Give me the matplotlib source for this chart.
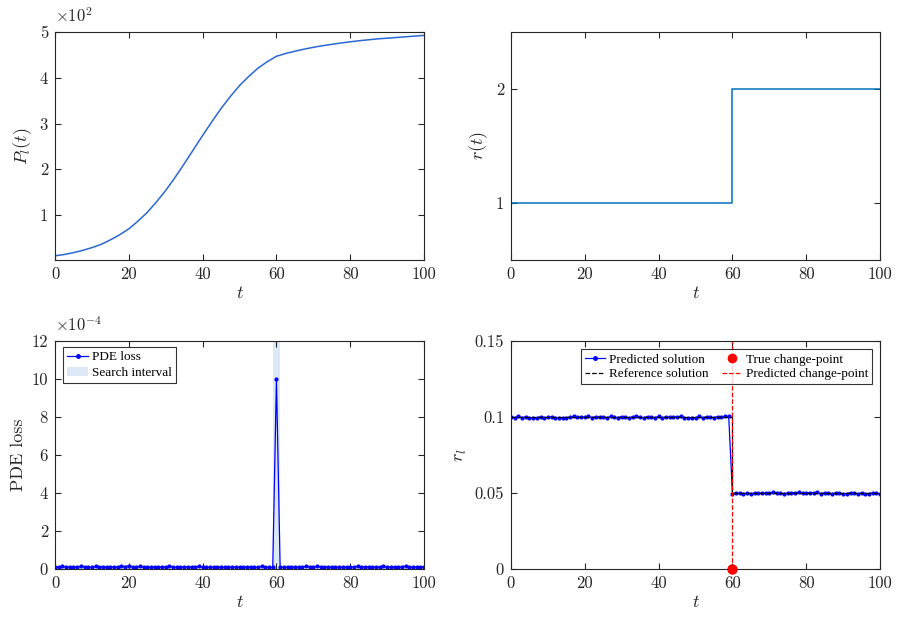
import matplotlib
matplotlib.use("Agg")
import matplotlib.pyplot as plt
from matplotlib.patches import Patch
from matplotlib.lines import Line2D
import numpy as np

# population P_l(t), in units of 1e2
p_time = [0, 2.5, 5, 7.5, 10, 12.5, 15, 17.5, 20, 22.5, 25, 27.5, 30, 32.5, 35, 37.5,
          40, 42.5, 45, 47.5, 50, 52.5, 55, 57.5, 60, 62.5, 65, 67.5, 70, 72.5, 75,
          77.5, 80, 82.5, 85, 87.5, 90, 92.5, 95, 97.5, 100]
p_vals = [0.11, 0.14, 0.18, 0.23, 0.29, 0.36, 0.46, 0.57, 0.70, 0.87, 1.06, 1.29, 1.54,
          1.82, 2.12, 2.43, 2.74, 3.04, 3.33, 3.59, 3.83, 4.03, 4.21, 4.35, 4.47, 4.53,
          4.58, 4.625, 4.665, 4.70, 4.73, 4.76, 4.785, 4.81, 4.83, 4.85, 4.865, 4.88,
          4.895, 4.91, 4.925]

# growth rate r(t)
r_time = [0, 60, 60, 100]
r_vals = [1, 1, 2, 2]

t = np.arange(0, 101)

# PDE loss, in units of 1e-4
pde_loss = [0.12, 0.10, 0.14, 0.11, 0.09, 0.13, 0.10, 0.15, 0.12, 0.08,
            0.11, 0.14, 0.10, 0.13, 0.09, 0.12, 0.10, 0.11, 0.16, 0.13,
            0.18, 0.12, 0.09, 0.14, 0.10, 0.08, 0.11, 0.13, 0.09, 0.12,
            0.10, 0.14, 0.11, 0.08, 0.12, 0.10, 0.13, 0.09, 0.11, 0.14,
            0.10, 0.12, 0.08, 0.11, 0.13, 0.09, 0.10, 0.12, 0.08, 0.11,
            0.09, 0.12, 0.10, 0.13, 0.09, 0.11, 0.14, 0.10, 0.08, 0.09,
            10.0, 0.11, 0.09, 0.12, 0.10, 0.13, 0.09, 0.11, 0.14, 0.12,
            0.10, 0.15, 0.11, 0.09, 0.13, 0.10, 0.12, 0.08, 0.11, 0.10,
            0.09, 0.12, 0.14, 0.10, 0.11, 0.13, 0.09, 0.12, 0.10, 0.14,
            0.11, 0.09, 0.12, 0.10, 0.13, 0.15, 0.11, 0.09, 0.12, 0.10,
            0.13]
search_lo, search_hi = 59, 61

# predicted r_l
r_pred = [0.1003, 0.0995, 0.1004, 0.0996, 0.1001, 0.0994, 0.0993, 0.0995, 0.1002, 0.0996,
          0.0997, 0.1003, 0.0995, 0.0996, 0.0994, 0.0993, 0.1001, 0.1004, 0.0997, 0.1002,
          0.0998, 0.1005, 0.0996, 0.1003, 0.0997, 0.1002, 0.0995, 0.1004, 0.0999, 0.0996,
          0.1003, 0.0998, 0.0994, 0.1002, 0.1004, 0.0997, 0.0995, 0.1003, 0.0998, 0.0996,
          0.1004, 0.0995, 0.1002, 0.0997, 0.1003, 0.0998, 0.1004, 0.0996, 0.0995, 0.0994,
          0.0996, 0.1004, 0.0995, 0.1002, 0.0997, 0.0996, 0.1003, 0.0998, 0.1005, 0.1004,
          0.0495, 0.0502, 0.0497, 0.0494, 0.0501, 0.0496, 0.0499, 0.0503, 0.0497, 0.0502,
          0.0501, 0.0504, 0.0503, 0.0498, 0.0496, 0.0501, 0.0503, 0.0502, 0.0504, 0.0497,
          0.0502, 0.0503, 0.0501, 0.0504, 0.0496, 0.0502, 0.0499, 0.0495, 0.0501, 0.0497,
          0.0494, 0.0496, 0.0502, 0.0497, 0.0495, 0.0501, 0.0496, 0.0495, 0.0503, 0.0499,
          0.0494]
ref_time = [0, 60, 60, 100]
ref_vals = [0.1, 0.1, 0.05, 0.05]
true_cp = 60
pred_cp = 60

plt.rcParams["font.family"] = "serif"
plt.rcParams["font.serif"] = ["cmr10"]
plt.rcParams["mathtext.fontset"] = "cm"
plt.rcParams["axes.formatter.use_mathtext"] = True
plt.rcParams["font.size"] = 12

ink = "0.15"
fig = plt.figure(figsize=(8.99, 6.41), dpi=100)
w, h = 0.4105, 0.3557
ax1 = fig.add_axes([0.0612, 0.5944, w, h])
ax2 = fig.add_axes([0.5684, 0.5944, w, h])
ax3 = fig.add_axes([0.0612, 0.1123, w, h])
ax4 = fig.add_axes([0.5684, 0.1123, w, h])


def style(ax):
    ax.tick_params(direction="in", top=True, right=True, length=4, width=0.8,
                   colors=ink, labelsize=12, pad=5)
    for s in ax.spines.values():
        s.set_color(ink)
        s.set_linewidth(0.8)
    ax.set_xlim(0, 100)
    ax.set_xticks([0, 20, 40, 60, 80, 100])
    ax.set_xticklabels(["0", "20", "40", "60", "80", "100"])
    ax.set_xlabel("$t$", fontsize=13, color=ink, labelpad=2)


# P_l(t)
ax1.plot(p_time, p_vals, color="#2a66d4", lw=1.1)
ax1.set_ylim(0.02, 5)
ax1.set_yticks([1, 2, 3, 4, 5])
ax1.set_yticklabels(["1", "2", "3", "4", "5"])
ax1.set_ylabel("$P_l(t)$", fontsize=13, color=ink)
ax1.text(0.0, 1.045, r"$\times10^{2}$", transform=ax1.transAxes, fontsize=12, color=ink)
style(ax1)

# r(t)
ax2.plot(r_time, r_vals, color="#0072BD", lw=1.1)
ax2.set_ylim(0.5, 2.5)
ax2.set_yticks([1, 2])
ax2.set_yticklabels(["1", "2"])
ax2.set_ylabel("$r(t)$", fontsize=13, color=ink)
style(ax2)

# PDE loss
ax3.axvspan(search_lo, search_hi, color="#dce8f5", lw=0)
ax3.plot(t, pde_loss, "-", color="b", marker=".", ms=4, lw=0.9)
ax3.set_ylim(0, 12)
ax3.set_yticks([0, 2, 4, 6, 8, 10, 12])
ax3.set_yticklabels(["0", "2", "4", "6", "8", "10", "12"])
ax3.set_ylabel("PDE loss", fontsize=13, color=ink)
ax3.text(0.0, 1.045, r"$\times10^{-4}$", transform=ax3.transAxes, fontsize=12, color=ink)
style(ax3)
h3 = [Line2D([], [], color="b", marker=".", ms=5, lw=0.9),
      Patch(facecolor="#dce8f5", edgecolor="none")]
leg = ax3.legend(h3, ["PDE loss", "Search interval"], loc="upper left",
                 bbox_to_anchor=(0.015, 0.985), fancybox=False, edgecolor="k",
                 prop={"family": "Liberation Serif", "size": 9.5},
                 handlelength=1.6, handletextpad=0.3, borderpad=0.3,
                 labelspacing=0.3, borderaxespad=0.2)
leg.get_frame().set_linewidth(0.8)

# r_l
ax4.plot(t, r_pred, "-", color="b", marker=".", ms=4, lw=0.9)
ax4.plot(ref_time, ref_vals, "--", color="k", lw=0.9)
ax4.axvline(pred_cp, color="r", ls="--", lw=0.9)
ax4.plot([true_cp], [0], "o", color="r", ms=6.5, clip_on=False, zorder=5)
ax4.set_ylim(0, 0.15)
ax4.set_yticks([0, 0.05, 0.1, 0.15])
ax4.set_yticklabels(["0", "0.05", "0.1", "0.15"])
ax4.set_ylabel("$r_l$", fontsize=13, color=ink)
style(ax4)
h4 = [Line2D([], [], color="b", marker=".", ms=5, lw=0.9),
      Line2D([], [], color="k", ls="--", lw=0.9),
      Line2D([], [], color="r", marker="o", ms=6, ls="none"),
      Line2D([], [], color="r", ls="--", lw=0.9)]
leg = ax4.legend(h4, ["Predicted solution", "Reference solution",
                      "True change-point", "Predicted change-point"],
                 loc="upper right", ncol=2, bbox_to_anchor=(0.985, 0.975),
                 fancybox=False, edgecolor="k",
                 prop={"family": "Liberation Serif", "size": 9.5},
                 handlelength=1.5, handletextpad=0.3, borderpad=0.3,
                 labelspacing=0.2, columnspacing=1.0, borderaxespad=0.2)
leg.get_frame().set_linewidth(0.8)

fig.savefig("out.png", dpi=100)
